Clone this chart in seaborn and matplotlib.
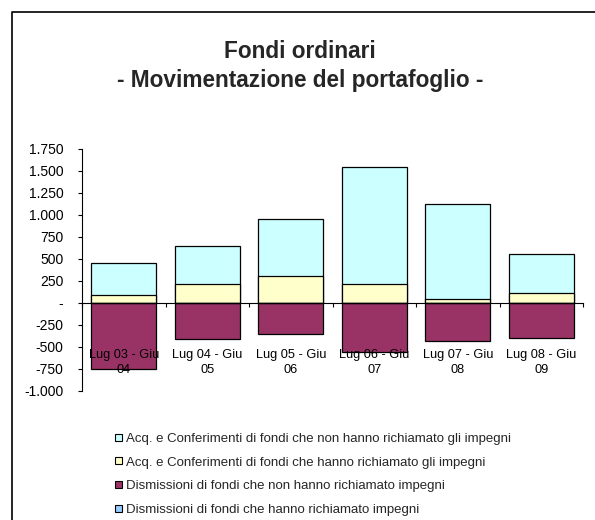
import matplotlib
matplotlib.use("Agg")
import matplotlib.pyplot as plt
from matplotlib.patches import Patch
from matplotlib.lines import Line2D
from matplotlib.ticker import FuncFormatter, FixedLocator
import seaborn as sns
import pandas as pd

# dati
periodi = ["Lug 03 - Giu\n04", "Lug 04 - Giu\n05", "Lug 05 - Giu\n06",
           "Lug 06 - Giu\n07", "Lug 07 - Giu\n08", "Lug 08 - Giu\n09"]
acq_non_richiamato = [362, 437, 641, 1335, 1085, 448]
acq_richiamato = [94, 211, 309, 211, 38, 106]
dism_non_richiamato = [-758, -411, -358, -554, -437, -400]
dism_richiamato = [0, 0, 0, 0, 0, 0]

nomi = ["Acq. e Conferimenti di fondi che non hanno richiamato gli impegni",
        "Acq. e Conferimenti di fondi che hanno richiamato gli impegni",
        "Dismissioni di fondi che non hanno richiamato impegni",
        "Dismissioni di fondi che hanno richiamato impegni"]
colori = ["#CCFFFF", "#FFFFCC", "#993366", "#99CCFF"]

df = pd.DataFrame({
    "periodo": periodi,
    "acq_nr": acq_non_richiamato,
    "acq_r": acq_richiamato,
    "dism_nr": dism_non_richiamato,
    "dism_r": dism_richiamato,
})
df["totale_acq"] = df["acq_nr"] + df["acq_r"]

sns.set_theme(style="white")
plt.rcParams["font.family"] = ["Liberation Sans", "DejaVu Sans"]

fig = plt.figure(figsize=(5.95, 5.2), dpi=100)
ax = fig.add_axes([82 / 595, 1 - 390.7 / 520, (583 - 82) / 595, (390.7 - 149) / 520])

kw = dict(width=0.78, edgecolor="black", linewidth=0.9, errorbar=None, ax=ax)
sns.barplot(data=df, x="periodo", y="totale_acq", color=colori[0], saturation=1, **kw)
sns.barplot(data=df, x="periodo", y="acq_r", color=colori[1], saturation=1, **kw)
sns.barplot(data=df, x="periodo", y="dism_nr", color=colori[2], saturation=1, **kw)
sns.barplot(data=df, x="periodo", y="dism_r", color=colori[3], saturation=1, **kw)

ax.set_xlabel("")
ax.set_ylabel("")
ax.set_xlim(-0.5, 5.5)
ax.set_ylim(-1000, 1750)

# asse y
ax.set_yticks(range(-1000, 1751, 250))
ax.yaxis.set_major_formatter(FuncFormatter(
    lambda v, p: "-" if v == 0 else f"{int(v):,}".replace(",", ".")))
ax.tick_params(axis="y", direction="out", length=3, width=0.8, color="black",
               labelsize=10, labelcolor="black", pad=10.5, left=True)

# asse x sullo zero, etichette sopra le barre
ax.spines["bottom"].set_position(("data", 0))
ax.spines["top"].set_visible(False)
ax.spines["right"].set_visible(False)
for s in ["left", "bottom"]:
    ax.spines[s].set_color("black")
    ax.spines[s].set_linewidth(0.8)
ax.set_xticks(range(len(periodi)))
ax.set_xticklabels(periodi, fontsize=9.2, color="black", linespacing=1.35)
ax.tick_params(axis="x", which="major", length=0, pad=33)
ax.xaxis.set_minor_locator(FixedLocator([i - 0.5 for i in range(len(periodi) + 1)]))
ax.tick_params(axis="x", which="minor", direction="out", length=3, width=0.8,
               color="black", bottom=True)
ax.xaxis.set_zorder(3)
ax.set_zorder(2)

# titolo
fig.text(300 / 595, 1 - 66 / 520, "Fondi ordinari\n- Movimentazione del portafoglio -",
         ha="center", va="center", fontsize=16.3, fontweight="bold", linespacing=1.3)

# legenda
handles = [Patch(facecolor=c, edgecolor="black", linewidth=0.8) for c in colori]
fig.legend(handles, nomi, loc="upper left", bbox_to_anchor=(115 / 595, 1 - 433 / 520),
           frameon=False, fontsize=9.5, handlelength=0.53, handleheight=0.45,
           handletextpad=0.3, labelspacing=0.88, borderaxespad=0, borderpad=0)

# cornice del grafico
fig.add_artist(Line2D([11.7 / 595, 11.7 / 595, 1.0], [0, 1 - 12 / 520, 1 - 12 / 520],
                      transform=fig.transFigure, color="black", linewidth=1.2))

fig.savefig("out.png", dpi=100, facecolor="white")
